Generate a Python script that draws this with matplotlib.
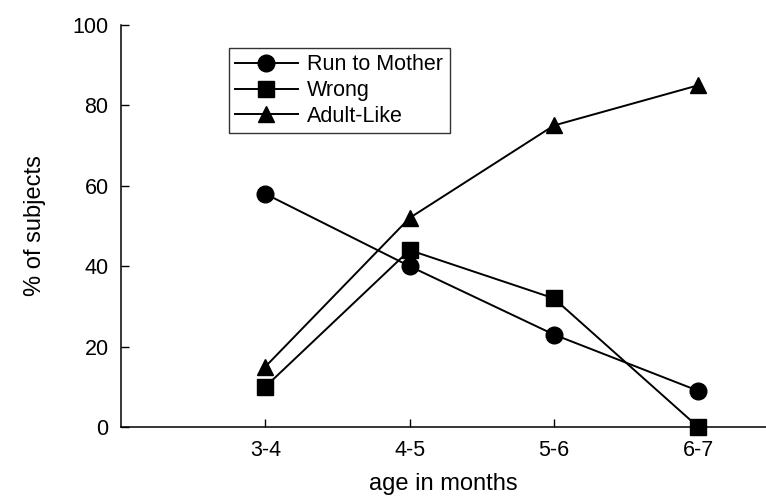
import matplotlib
matplotlib.use("Agg")
import matplotlib.pyplot as plt

plt.rcParams['font.family'] = ['Liberation Sans', 'DejaVu Sans']

categories = ["3-4", "4-5", "5-6", "6-7"]
run_to_mother = [58, 40, 23, 9]
wrong = [10, 44, 32, 0]
adult_like = [15, 52, 75, 85]
y_ticks = [0, 20, 40, 60, 80, 100]

fig = plt.figure(figsize=(7.66, 5.0), dpi=100)
ax = fig.add_axes([0.158, 0.146, 0.842, 0.804])

x = list(range(1, len(categories) + 1))
kw = dict(color='black', lw=1.4, markersize=12, clip_on=False)
ax.plot(x, run_to_mother, marker='o', label='Run to Mother', **kw)
ax.plot(x, wrong, marker='s', label='Wrong', **kw)
ax.plot(x, adult_like, marker='^', label='Adult-Like', **kw)

ax.set_xlim(0, 4.47)
ax.set_ylim(0, 100)
ax.set_xticks(x)
ax.set_xticklabels(categories)
ax.set_yticks(y_ticks)
ax.tick_params(direction='in', length=6, width=1, labelsize=15.5, pad=9)
for s in ['top', 'right']:
    ax.spines[s].set_visible(False)
for s in ['left', 'bottom']:
    ax.spines[s].set_linewidth(1.1)

ax.set_xlabel('age in months', fontsize=17, labelpad=9)
ax.set_ylabel('% of subjects', fontsize=17, labelpad=19)

leg = ax.legend(loc='upper left', bbox_to_anchor=(0.167, 0.943), fontsize=15.5,
                frameon=True, fancybox=False, edgecolor='black', handlelength=2.9,
                handletextpad=0.45, labelspacing=0.22, borderpad=0.3, borderaxespad=0)
leg.get_frame().set_linewidth(1.0)

fig.savefig('out.png', dpi=100)
